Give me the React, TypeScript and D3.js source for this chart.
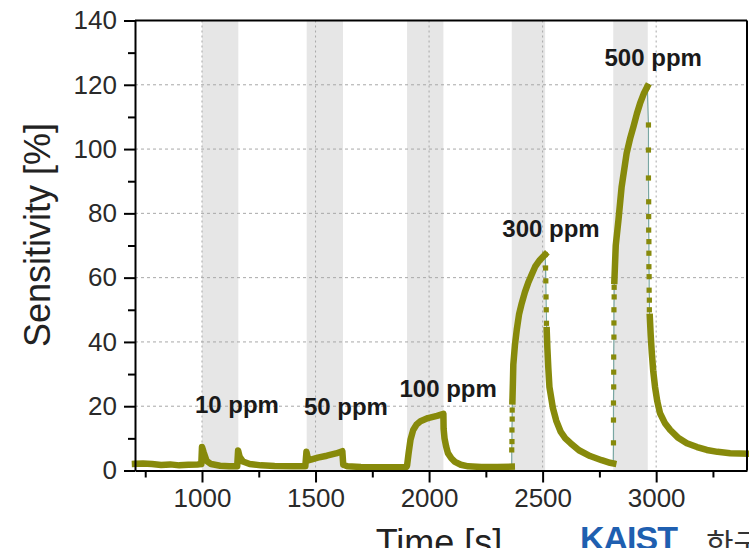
import React, { useEffect, useRef } from "react";
import * as d3 from "d3";

// ---- data ----
const xTicks = [1000, 1500, 2000, 2500, 3000];
const xMinorTicks = [750, 1250, 1750, 2250, 2750, 3250];
const yTicks = [0, 20, 40, 60, 80, 100, 120, 140];
const yMinorTicks = [10, 30, 50, 70, 90, 110, 130];
const yGrid = [20, 40, 60, 80, 100, 120];

// gas exposure windows [s]
const exposureStart = [1000, 1461, 1903, 2364, 2811];
const exposureEnd = [1160, 1621, 2063, 2511, 2963];

const concLabels = ["10 ppm", "50 ppm", "100 ppm", "300 ppm", "500 ppm"];
const concLabelTime = [1154, 1634, 2084, 2537, 2987];
const concLabelValue = [17.9, 17.3, 22.9, 72.6, 126];

// continuous parts of the response [time, sensitivity]
const runLow: [number, number][] = [
  [705, 2.1], [740, 2.2], [780, 2.0], [820, 1.7], [860, 1.9], [900, 1.6], [940, 1.8],
  [980, 1.9], [997, 2.0], [1000, 7.3], [1008, 5.5], [1020, 3.0], [1040, 2.0], [1080, 1.5],
  [1120, 1.3], [1155, 1.3], [1159, 6.2], [1166, 4.2], [1180, 2.8], [1210, 2.0], [1260, 1.6],
  [1320, 1.4], [1400, 1.3], [1455, 1.3], [1460, 5.8], [1468, 3.2], [1480, 3.4], [1510, 4.0],
  [1550, 4.6], [1590, 5.3], [1618, 6.0], [1622, 1.8], [1640, 1.3], [1700, 1.1], [1800, 1.0],
  [1900, 1.1], [1903, 1.5], [1910, 5.5], [1918, 9.5], [1930, 12.6], [1945, 14.3], [1962, 15.3],
  [1995, 16.3], [2035, 17.0], [2063, 17.6], [2064, 13.0], [2068, 10.0], [2075, 7.5], [2083, 5.4],
  [2098, 3.8], [2114, 2.7], [2140, 1.8], [2172, 1.3], [2230, 1.1], [2300, 1.1], [2364, 1.2],
];
const run300: [number, number][] = [
  [2367, 21.5], [2369, 27], [2371, 33], [2378, 39], [2386, 43.7], [2396, 48.5], [2408, 52],
  [2422, 55.5], [2436, 58.3], [2452, 61.0], [2467, 63.4], [2488, 65.5], [2511, 67.2],
];
const decay300: [number, number][] = [
  [2518, 43.7], [2521, 38], [2525, 32], [2530, 26], [2545, 19.5], [2560, 15.5], [2580, 12.0],
  [2600, 10.0], [2623, 8.5], [2660, 6.3], [2709, 4.5], [2760, 3.2], [2797, 2.4], [2811, 2.2],
];
const run500: [number, number][] = [
  [2816, 59], [2822, 70], [2834, 78], [2848, 88.3], [2870, 98.7], [2886, 103.5], [2900, 107],
  [2915, 111], [2929, 114.2], [2945, 117.2], [2961, 119.4],
];
const decay500: [number, number][] = [
  [2972, 47.8], [2976, 42], [2981, 36.4], [2987, 31], [2995, 26], [3005, 21.5], [3017, 17.8],
  [3038, 14.8], [3062, 12.6], [3095, 10.3], [3135, 8.5], [3180, 7.3], [3223, 6.4], [3270, 5.8],
  [3326, 5.4], [3400, 5.2],
];

// fast on/off transitions where single samples are visible
const rise300: [number, number][] = [
  [2364, 1.2], [2364, 6.4], [2365, 9.0], [2365, 12.6], [2366, 16.0], [2366, 18.8], [2367, 21.5],
];
const fall300: [number, number][] = [
  [2511, 67.2], [2513, 63], [2514, 59], [2515, 54], [2516, 50], [2517, 45.8], [2518, 43.7],
];
const rise500: [number, number][] = [
  [2811, 2.2], [2812, 8.6], [2812, 15.7], [2812, 21], [2813, 26], [2813, 30.6], [2813, 35.3],
  [2814, 41.5], [2814, 45.9], [2814, 50], [2815, 54], [2815, 57], [2816, 59],
];
const fall500: [number, number][] = [
  [2961, 119.4], [2966, 107.5], [2966, 99.7], [2966, 91], [2967, 83.6], [2967, 79], [2967, 74.8],
  [2968, 71.2], [2968, 67.6], [2968, 63.4], [2969, 60.3], [2969, 56.1], [2970, 53], [2970, 50],
  [2972, 47.8],
];

const runs = [runLow, run300, decay300, run500, decay500];
const steps = [rise300, fall300, rise500, fall500];

const W = 749;
const H = 548;
const left = 135, right = 747, top = 20.5, bottom = 470.5;
const font = "'Liberation Sans', Arial, sans-serif";
const olive = "#878a0b";

const App = () => {
  const xAxisRef = useRef<SVGGElement>(null);
  const xMinorRef = useRef<SVGGElement>(null);
  const yAxisRef = useRef<SVGGElement>(null);
  const yMinorRef = useRef<SVGGElement>(null);

  const x = d3.scaleLinear().domain([705, 3400]).range([left, right]);
  const y = d3.scaleLinear().domain([0, 140]).range([bottom, top]);

  const line = d3
    .line<[number, number]>()
    .x((d) => x(d[0]))
    .y((d) => y(d[1]));

  useEffect(() => {
    const styleAxis = (g: any) => {
      g.attr("font-size", 26).attr("font-family", font).attr("color", "#000");
      g.selectAll("text").attr("fill", "#2a2a2a");
      g.selectAll("line").attr("stroke-width", 2);
      g.select(".domain").attr("stroke-width", 2);
    };
    if (xAxisRef.current) {
      d3.select(xAxisRef.current)
        .call(
          d3.axisBottom(x).tickValues(xTicks).tickFormat(d3.format("d")).tickSize(12).tickPadding(6).tickSizeOuter(0)
        )
        .call(styleAxis);
    }
    if (xMinorRef.current) {
      d3.select(xMinorRef.current)
        .call(d3.axisBottom(x).tickValues(xMinorTicks).tickSize(7).tickFormat(() => "").tickSizeOuter(0))
        .call(styleAxis)
        .select(".domain")
        .remove();
    }
    if (yAxisRef.current) {
      d3.select(yAxisRef.current)
        .call(d3.axisLeft(y).tickValues(yTicks).tickSize(11).tickPadding(7).tickSizeOuter(0))
        .call(styleAxis);
    }
    if (yMinorRef.current) {
      d3.select(yMinorRef.current)
        .call(d3.axisLeft(y).tickValues(yMinorTicks).tickSize(7).tickFormat(() => "").tickSizeOuter(0))
        .call(styleAxis)
        .select(".domain")
        .remove();
    }
  }, []);

  return (
    <svg
      width={W}
      height={H}
      style={{ position: "absolute", left: 0, top: 0, background: "#fff" }}
    >
      {/* exposure bands */}
      {exposureStart.map((s, i) => (
        <rect
          key={`band-${i}`}
          x={x(s)}
          y={top}
          width={x(exposureEnd[i]) - x(s)}
          height={bottom - top}
          fill="#e6e6e6"
        />
      ))}

      {/* grid */}
      {yGrid.map((v) => (
        <line key={`gy-${v}`} x1={left} x2={right} y1={y(v)} y2={y(v)}
          stroke="#a8a8a8" strokeWidth={1} strokeDasharray="3 3" />
      ))}
      {xTicks.map((t) => (
        <line key={`gx-${t}`} x1={x(t)} x2={x(t)} y1={top} y2={bottom}
          stroke="#a8a8a8" strokeWidth={1} strokeDasharray="2 3" />
      ))}

      {/* sampled transitions */}
      {steps.map((s, i) => (
        <g key={`step-${i}`}>
          <path d={line(s) ?? ""} fill="none" stroke="#79a6a2" strokeWidth={1.2} />
          {s.map((d, j) => (
            <rect key={j} x={x(d[0]) - 2.6} y={y(d[1]) - 2.6} width={5.2} height={5.2} fill={olive} />
          ))}
        </g>
      ))}

      {/* continuous response */}
      {runs.map((r, i) => (
        <path
          key={`run-${i}`}
          d={line(r) ?? ""}
          fill="none"
          stroke={olive}
          strokeWidth={6.5}
          strokeLinejoin="round"
          strokeLinecap="square"
        />
      ))}

      {/* frame */}
      <line x1={left} x2={right} y1={top} y2={top} stroke="#000" strokeWidth={2} />
      <line x1={right} x2={right} y1={top} y2={bottom} stroke="#000" strokeWidth={2} />

      <g ref={xMinorRef} transform={`translate(0,${bottom})`} />
      <g ref={xAxisRef} transform={`translate(0,${bottom})`} />
      <g ref={yMinorRef} transform={`translate(${left},0)`} />
      <g ref={yAxisRef} transform={`translate(${left},0)`} />

      {/* concentration labels */}
      {concLabels.map((l, i) => (
        <text
          key={l}
          x={x(concLabelTime[i])}
          y={y(concLabelValue[i])}
          textAnchor="middle"
          fontFamily={font}
          fontWeight="bold"
          fontSize={24}
          fill="#1a1a1a"
        >
          {l}
        </text>
      ))}

      {/* axis titles */}
      <text
        transform="translate(50,235) rotate(-90)"
        textAnchor="middle"
        fontFamily={font}
        fontSize={36}
        fill="#222"
      >
        Sensitivity [%]
      </text>
      <text x={439} y={555} textAnchor="middle" fontFamily={font} fontSize={36} fill="#222">
        Time [s]
      </text>

      {/* source mark */}
      <text x={580} y={550} fontFamily={font} fontWeight="bold" fontSize={34} fill="#1f5fb0" letterSpacing={-1}>
        KAIST
      </text>
      <text x={706} y={555} fontFamily="'Noto Sans CJK KR', sans-serif" fontSize={30} fill="#333">
        한국과학기술원
      </text>
    </svg>
  );
};

export default App;
